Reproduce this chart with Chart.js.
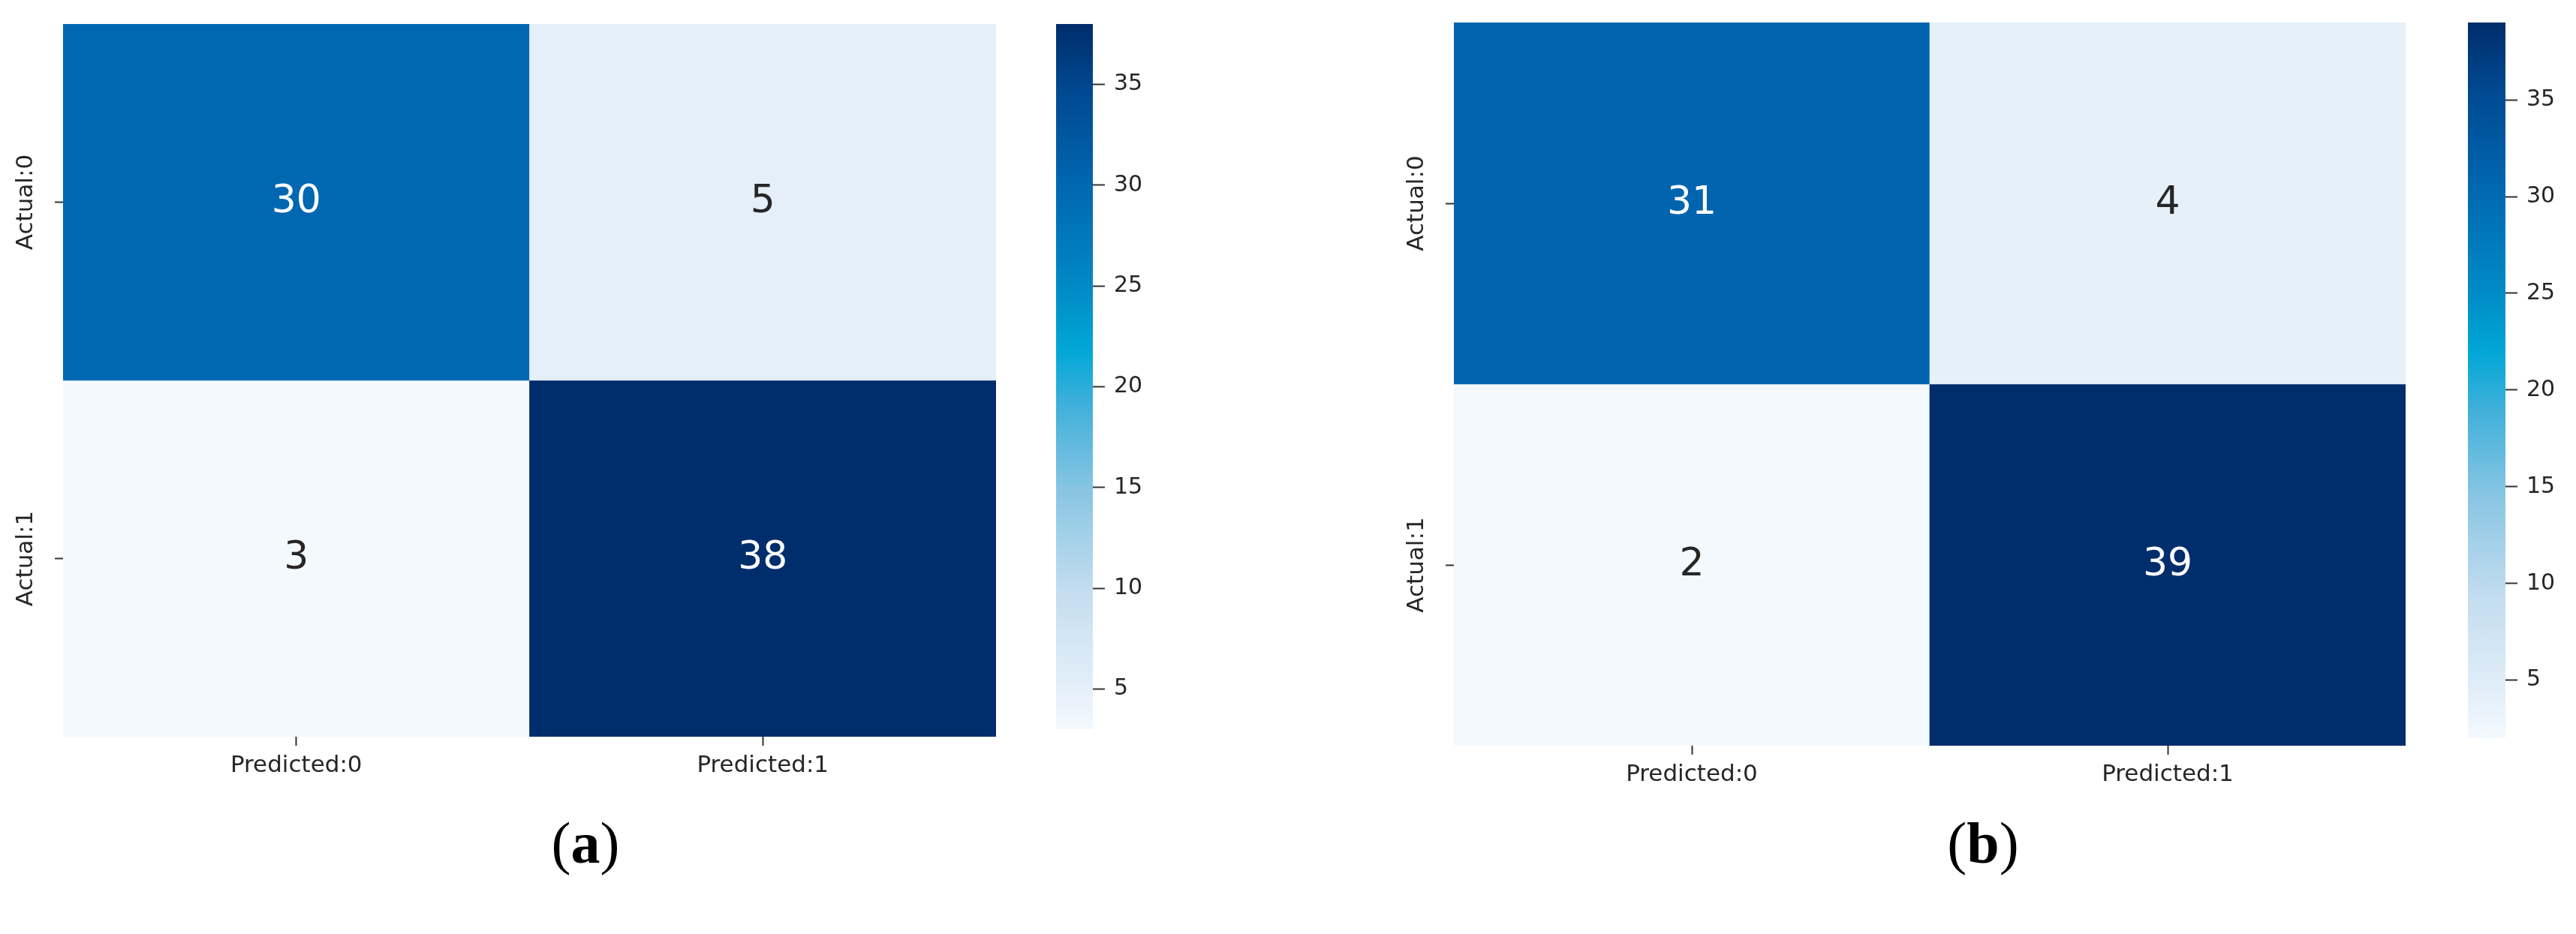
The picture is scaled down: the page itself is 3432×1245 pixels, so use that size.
<!DOCTYPE html>
<html>
<head>
<meta charset="utf-8">
<script src="https://cdn.jsdelivr.net/npm/chart.js@4.4.1/dist/chart.umd.min.js"></script>
<style>
  html, body { margin: 0; padding: 0; background: #fff; }
  #root { position: relative; width: 3432px; height: 1245px; overflow: hidden; background: #fff; }
  .box { position: absolute; }
  .box canvas { display: block; }
  .cap { position: absolute; font-family: "Liberation Serif", "Times New Roman", serif; font-size: 78px;
         color: #000; transform: translate(-50%, -50%); line-height: 1; white-space: nowrap; }
</style>
</head>
<body>
<div id="root">
  <div class="box" style="left:0px;top:0px;"><canvas id="heatA" width="1340" height="1080"></canvas></div>
  <div class="box" style="left:1400px;top:0px;"><canvas id="cbarA" width="140" height="1002"></canvas></div>
  <div class="box" style="left:1853px;top:0px;"><canvas id="heatB" width="1365" height="1100"></canvas></div>
  <div class="box" style="left:3281px;top:0px;"><canvas id="cbarB" width="140" height="1014"></canvas></div>
  <div class="cap" style="left:780px;top:1124px;">(<b>a</b>)</div>
  <div class="cap" style="left:2642px;top:1124px;">(<b>b</b>)</div>
</div>
<script>
// ---------------- DATA ----------------
const predictedLabels = ['Predicted:0', 'Predicted:1'];
const actualLabels = ['Actual:0', 'Actual:1'];
// panel (a)
const a_actual0 = [30, 5];
const a_actual1 = [3, 38];
// panel (b)
const b_actual0 = [31, 4];
const b_actual1 = [2, 39];
// colorbar tick labels
const colorbarTicks = [5, 10, 15, 20, 25, 30, 35];

// ---------------- STYLE ----------------
const FONT = '"DejaVu Sans", "Noto Sans", sans-serif';
const TEXT_DARK = '#262626';
const TICK_COLOR = '#333333';
// Blues-like colormap as seen in the picture (position 0..1 -> colour)
const cmapStops = [
  [0.00, '#f4f9fe'],
  [0.06, '#e3eff9'],
  [0.20, '#c2dcef'],
  [0.34, '#87c5e3'],
  [0.46, '#3fb0da'],
  [0.54, '#00a7d6'],
  [0.63, '#0089c5'],
  [0.77, '#0067b1'],
  [0.91, '#00488f'],
  [1.00, '#002d6b']
];
function hexToRgb(h) { return [parseInt(h.slice(1,3),16), parseInt(h.slice(3,5),16), parseInt(h.slice(5,7),16)]; }
function cmap(t) {
  t = Math.max(0, Math.min(1, t));
  for (let i = 1; i < cmapStops.length; i++) {
    if (t <= cmapStops[i][0]) {
      const [t0, c0] = cmapStops[i-1], [t1, c1] = cmapStops[i];
      const f = (t - t0) / (t1 - t0);
      const a = hexToRgb(c0), b = hexToRgb(c1);
      const rgb = a.map((v, k) => Math.round(v + (b[k] - v) * f));
      return 'rgb(' + rgb.join(',') + ')';
    }
  }
  return cmapStops[cmapStops.length-1][1];
}
function luminance(t) {
  const m = cmap(t).match(/\d+/g).map(Number).map(v => v / 255);
  const lin = m.map(c => c <= 0.03928 ? c / 12.92 : Math.pow((c + 0.055) / 1.055, 2.4));
  return 0.2126 * lin[0] + 0.7152 * lin[1] + 0.0722 * lin[2];
}

// -------------- PLUGINS ---------------
const cellTextPlugin = {
  id: 'cellText',
  afterDatasetsDraw(chart) {
    const ctx = chart.ctx;
    const {vmin, vmax} = chart.options.plugins.cellText;
    ctx.save();
    ctx.font = '52px ' + FONT;
    ctx.textAlign = 'center';
    ctx.textBaseline = 'middle';
    chart.data.datasets.forEach((ds, di) => {
      const meta = chart.getDatasetMeta(di);
      meta.data.forEach((el, i) => {
        const v = ds.cellValues[i];
        const t = (v - vmin) / (vmax - vmin);
        ctx.fillStyle = luminance(t) < 0.408 ? '#ffffff' : TEXT_DARK;
        ctx.fillText(String(v), el.x, (el.y + el.base) / 2);
      });
    });
    ctx.restore();
  }
};
const yLabelPlugin = {
  id: 'yLabels',
  afterDraw(chart) {
    const s = chart.scales.y;
    const ctx = chart.ctx;
    ctx.save();
    ctx.font = '31px ' + FONT;
    ctx.fillStyle = TEXT_DARK;
    ctx.textAlign = 'center';
    ctx.textBaseline = 'middle';
    s.ticks.forEach(t => {
      const y = s.getPixelForValue(t.value);
      ctx.save();
      ctx.translate(chart.chartArea.left - 49, y);
      ctx.rotate(-Math.PI / 2);
      ctx.fillText(t.label, 0, 0);
      ctx.restore();
    });
    ctx.restore();
  }
};

// -------------- BUILDERS --------------
function buildHeatmap(canvasId, rows, opt) {
  const all = rows.flat();
  const vmin = Math.min(...all), vmax = Math.max(...all);
  const nRows = rows.length;
  const datasets = rows.map((row, r) => ({
    label: actualLabels[r],
    data: row.map(() => [nRows - r - 1, nRows - r]),
    cellValues: row,
    backgroundColor: row.map(v => cmap((v - vmin) / (vmax - vmin))),
    borderWidth: 0,
    barPercentage: 1,
    categoryPercentage: 1,
    grouped: false
  }));
  const canvas = document.getElementById(canvasId);
  return new Chart(canvas, {
    type: 'bar',
    data: { labels: predictedLabels, datasets },
    plugins: [cellTextPlugin, yLabelPlugin],
    options: {
      responsive: false,
      animation: false,
      layout: { padding: { left: 0, top: opt.top, right: 13, bottom: 0 } },
      plugins: {
        legend: { display: false },
        tooltip: { enabled: false },
        cellText: { vmin, vmax }
      },
      scales: {
        x: {
          type: 'category',
          offset: true,
          grid: { offset: false, drawOnChartArea: false, drawTicks: true, tickLength: 12, tickColor: TICK_COLOR, tickWidth: 2 },
          border: { display: false },
          ticks: { font: { family: FONT, size: 31 }, color: TEXT_DARK, padding: 8, maxRotation: 0, minRotation: 0 },
          afterFit: s => { s.height = opt.xHeight; }
        },
        y: {
          type: 'linear',
          min: 0,
          max: nRows,
          afterBuildTicks: s => { s.ticks = actualLabels.map((_, r) => ({ value: nRows - r - 0.5 })); },
          ticks: { display: false, callback: v => actualLabels[Math.round(nRows - 0.5 - v)] },
          grid: { drawOnChartArea: false, drawTicks: true, tickLength: 11, tickColor: TICK_COLOR, tickWidth: 2 },
          border: { display: false },
          afterFit: s => { s.width = 84; }
        }
      }
    }
  });
}

function buildColorbar(canvasId, rows, opt) {
  const all = rows.flat();
  const vmin = Math.min(...all), vmax = Math.max(...all);
  const canvas = document.getElementById(canvasId);
  return new Chart(canvas, {
    type: 'bar',
    data: {
      labels: [''],
      datasets: [{
        data: [[vmin, vmax]],
        backgroundColor: ctx => {
          const chart = ctx.chart;
          if (!chart.chartArea) return '#888';
          const ys = chart.scales.y;
          const g = chart.ctx.createLinearGradient(0, ys.getPixelForValue(vmin), 0, ys.getPixelForValue(vmax));
          cmapStops.forEach(([t, c]) => g.addColorStop(t, c));
          return g;
        },
        borderWidth: 0,
        barPercentage: 1,
        categoryPercentage: 1
      }]
    },
    options: {
      responsive: false,
      animation: false,
      layout: { padding: { left: 7, top: opt.top, right: 0, bottom: 20 } },
      plugins: { legend: { display: false }, tooltip: { enabled: false } },
      scales: {
        x: { display: false },
        y: {
          position: 'right',
          min: vmin,
          max: vmax,
          afterBuildTicks: s => { s.ticks = colorbarTicks.map(v => ({ value: v })); },
          ticks: { font: { family: FONT, size: 30 }, color: TEXT_DARK, padding: 12 },
          grid: { drawOnChartArea: false, drawTicks: true, tickLength: 16, tickColor: TICK_COLOR, tickWidth: 2 },
          border: { display: false },
          afterFit: s => { s.width = opt.axisWidth; }
        }
      }
    }
  });
}

buildHeatmap('heatA', [a_actual0, a_actual1], { top: 32, xHeight: 98 });
buildColorbar('cbarA', [a_actual0, a_actual1], { top: 32, axisWidth: 84 });
buildHeatmap('heatB', [b_actual0, b_actual1], { top: 30, xHeight: 106 });
buildColorbar('cbarB', [b_actual0, b_actual1], { top: 30, axisWidth: 83 });
</script>
</body>
</html>
